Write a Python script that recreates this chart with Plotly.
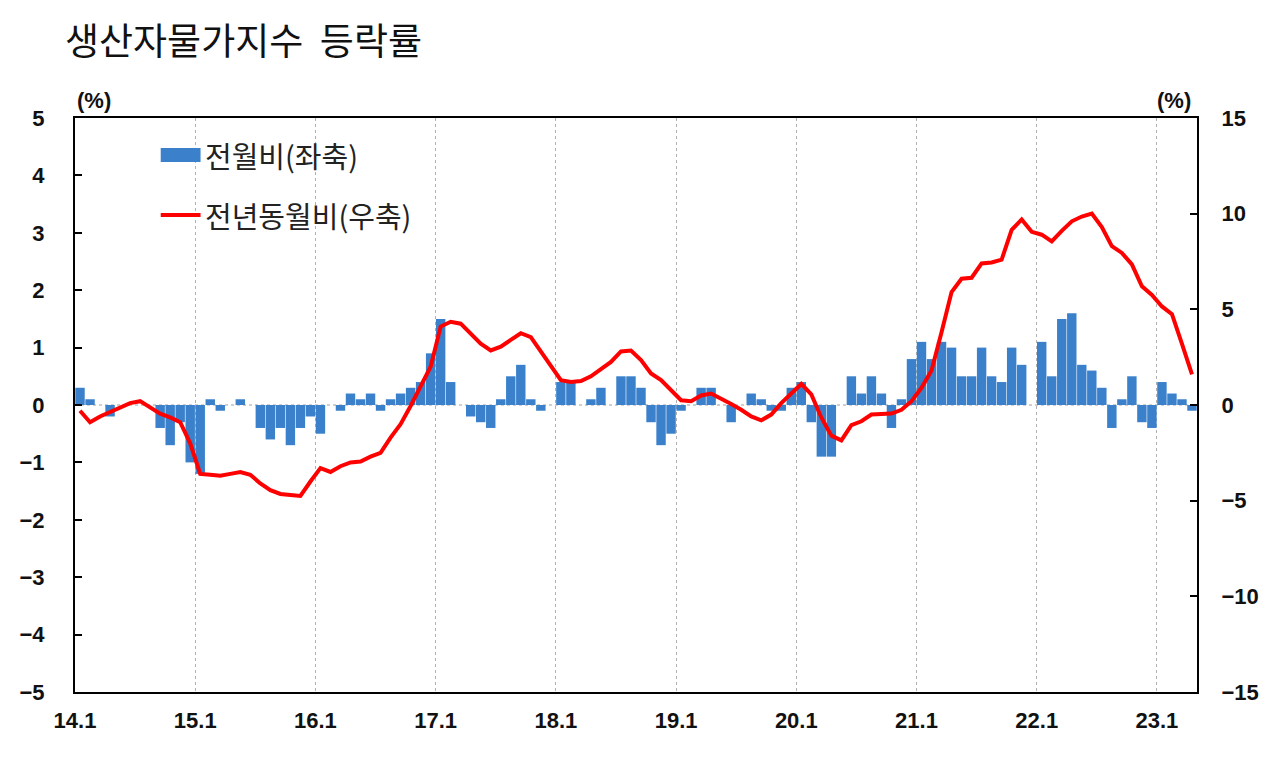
import plotly.graph_objects as go

# monthly PPI change, 2014.1 - 2023.4
months = [f"{y % 100:02d}.{m}" for y in range(2014, 2024) for m in range(1, 13)][:112]

# 전월비 (m/m, %), left axis
mom = [
    0.3, 0.1, 0.0, -0.2, 0.0, 0.0, 0.0, 0.0, -0.4, -0.7, -0.3, -1.0,      # 2014
    -1.2, 0.1, -0.1, 0.0, 0.1, 0.0, -0.4, -0.6, -0.4, -0.7, -0.4, -0.2,   # 2015
    -0.5, 0.0, -0.1, 0.2, 0.1, 0.2, -0.1, 0.1, 0.2, 0.3, 0.4, 0.9,        # 2016
    1.5, 0.4, 0.0, -0.2, -0.3, -0.4, 0.1, 0.5, 0.7, 0.1, -0.1, 0.0,       # 2017
    0.4, 0.4, 0.0, 0.1, 0.3, 0.0, 0.5, 0.5, 0.3, -0.3, -0.7, -0.5,        # 2018
    -0.1, 0.0, 0.3, 0.3, 0.0, -0.3, 0.0, 0.2, 0.1, -0.1, -0.1, 0.3,       # 2019
    0.4, -0.3, -0.9, -0.9, 0.0, 0.5, 0.2, 0.5, 0.2, -0.4, 0.1, 0.8,       # 2020
    1.1, 0.8, 1.1, 1.0, 0.5, 0.5, 1.0, 0.5, 0.4, 1.0, 0.7, 0.0,           # 2021
    1.1, 0.5, 1.5, 1.6, 0.7, 0.6, 0.3, -0.4, 0.1, 0.5, -0.3, -0.4,        # 2022
    0.4, 0.2, 0.1, -0.1,                                                  # 2023
]

# 전년동월비 (y/y, %), right axis
yoy = [
    -0.3, -0.9, -0.6, -0.35, -0.1, 0.1, 0.2, -0.1, -0.45, -0.65, -0.9, -2.0,
    -3.6, -3.65, -3.7, -3.6, -3.5, -3.65, -4.1, -4.45, -4.65, -4.7, -4.75, -4.0,
    -3.3, -3.5, -3.2, -3.0, -2.95, -2.7, -2.5, -1.7, -1.0, -0.05, 0.95, 2.0,
    4.1, 4.35, 4.25, 3.75, 3.2, 2.85, 3.05, 3.4, 3.75, 3.55, 2.8, 2.0,
    1.3, 1.2, 1.25, 1.5, 1.9, 2.25, 2.8, 2.85, 2.35, 1.65, 1.3, 0.8,
    0.25, 0.2, 0.5, 0.6, 0.35, 0.05, -0.25, -0.6, -0.8, -0.5, 0.1, 0.6,
    1.1, 0.55, -0.65, -1.6, -1.85, -1.05, -0.85, -0.5, -0.45, -0.45, -0.25, 0.2,
    0.9, 1.8, 3.8, 5.9, 6.6, 6.65, 7.4, 7.45, 7.6, 9.15, 9.7, 9.05,
    8.9, 8.55, 9.1, 9.6, 9.85, 10.0, 9.3, 8.3, 7.95, 7.35, 6.2, 5.75,
    5.15, 4.75, 3.2, 1.6,
]

names = ["전월비(좌축)", "전년동월비(우축)"]
tick_labels = [m for m in months if m.endswith(".1")]

idx = list(range(len(months)))
tick_pos = [i - 0.5 for i in idx if months[i].endswith(".1")]

BLUE = "#3a80cb"
RED = "#ff0000"
num_font = dict(family="Liberation Sans", size=22, color="#111", weight="bold")
kr_font = "Noto Sans CJK KR"

fig = go.Figure()
fig.add_trace(go.Bar(x=idx, y=mom, name=names[0], marker_color=BLUE,
                     marker_line_width=0, yaxis="y"))
fig.add_trace(go.Scatter(x=idx, y=yoy, name=names[1], mode="lines",
                         line=dict(color=RED, width=4), yaxis="y2"))

fig.add_hline(y=0, line=dict(color="#a0a0a0", width=1, dash="dot"), layer="below")

# page adds ~8px body margin, so margins are shifted by that
fig.update_layout(
    width=1280, height=757,
    margin=dict(l=63, r=91, t=110, b=73),
    paper_bgcolor="white", plot_bgcolor="white",
    showlegend=False, bargap=0.06,
    title=dict(text="생산자물가지수  등락률", x=57 / 1280, xanchor="left",
               y=1 - 34 / 757, yanchor="middle", xref="container",
               font=dict(family=kr_font, size=37, color="#111")),
    xaxis=dict(range=[-0.5, len(months) - 0.5], tickvals=tick_pos, ticktext=tick_labels,
               showgrid=True, griddash="dot", gridcolor="#b0b0b0", gridwidth=1,
               showline=True, linecolor="black", linewidth=2, mirror=True,
               ticks="", zeroline=False, tickfont=num_font, ticklabelstandoff=8),
    yaxis=dict(range=[-5, 5], dtick=1, showgrid=False, zeroline=False,
               showline=True, linecolor="black", linewidth=2,
               ticks="inside", ticklen=7, tickwidth=1.5, tickcolor="black",
               tickfont=num_font, ticklabelstandoff=24),
    yaxis2=dict(range=[-15, 15], dtick=5, overlaying="y", side="right",
                showgrid=False, zeroline=False,
                showline=True, linecolor="black", linewidth=2,
                ticks="inside", ticklen=7, tickwidth=1.5, tickcolor="black",
                tickfont=num_font, ticklabelstandoff=18),
)

# axis unit labels
fig.add_annotation(text="(%)", x=0.0, y=1.031, xref="paper", yref="paper",
                   xanchor="left", yanchor="middle", showarrow=False, font=num_font)
fig.add_annotation(text="(%)", x=0.996, y=1.031, xref="paper", yref="paper",
                   xanchor="right", yanchor="middle", showarrow=False, font=num_font)

# legend drawn by hand (wide bar swatch like the original)
fig.add_shape(type="rect", xref="paper", yref="paper", x0=0.0764, x1=0.1119,
              y0=0.9233, y1=0.9477, fillcolor=BLUE, line_width=0)
fig.add_shape(type="line", xref="paper", yref="paper", x0=0.0764, x1=0.1119,
              y0=0.831, y1=0.831, line=dict(color=RED, width=4))
for name, yy in zip(names, [0.9355, 0.831]):
    fig.add_annotation(text=name, x=0.1137, y=yy, xref="paper", yref="paper",
                       xanchor="left", yanchor="middle", showarrow=False,
                       font=dict(family=kr_font, size=29, color="#222"))

fig.write_html("out.html")
